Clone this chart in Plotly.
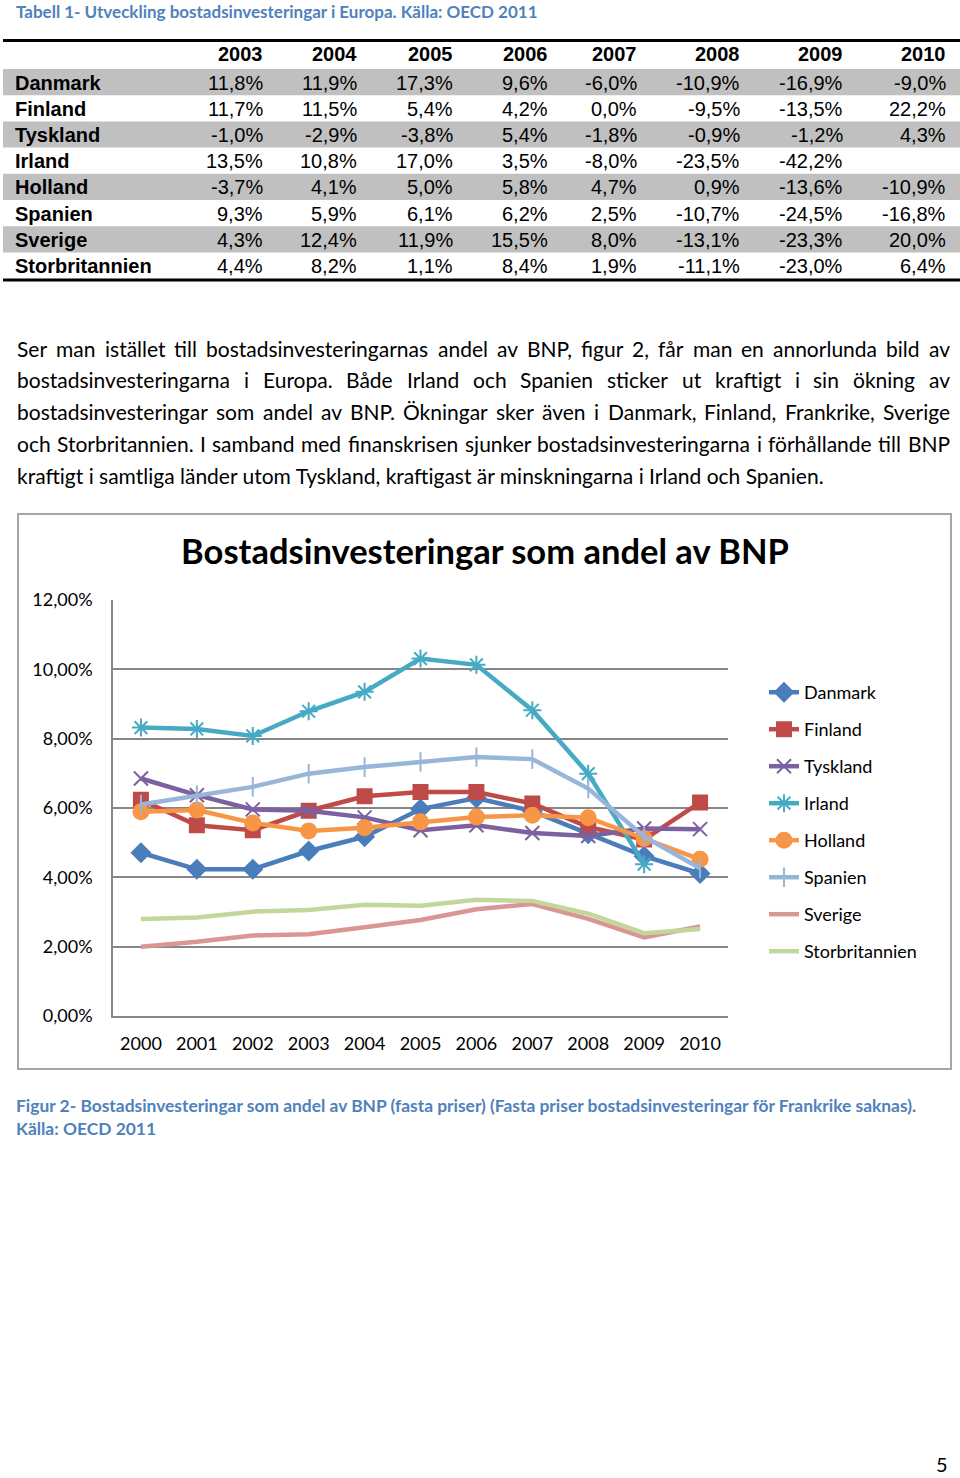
import glob
import plotly.graph_objects as go

W, H = 960, 1478
def X(px): return px / W
def Y(py): return 1 - py / H

# ---------------- Table data ----------------
table_years = ["2003", "2004", "2005", "2006", "2007", "2008", "2009", "2010"]
table_countries = ["Danmark", "Finland", "Tyskland", "Irland", "Holland", "Spanien", "Sverige", "Storbritannien"]
tbl_danmark = ["11,8%", "11,9%", "17,3%", "9,6%", "-6,0%", "-10,9%", "-16,9%", "-9,0%"]
tbl_finland = ["11,7%", "11,5%", "5,4%", "4,2%", "0,0%", "-9,5%", "-13,5%", "22,2%"]
tbl_tyskland = ["-1,0%", "-2,9%", "-3,8%", "5,4%", "-1,8%", "-0,9%", "-1,2%", "4,3%"]
tbl_irland = ["13,5%", "10,8%", "17,0%", "3,5%", "-8,0%", "-23,5%", "-42,2%", ""]
tbl_holland = ["-3,7%", "4,1%", "5,0%", "5,8%", "4,7%", "0,9%", "-13,6%", "-10,9%"]
tbl_spanien = ["9,3%", "5,9%", "6,1%", "6,2%", "2,5%", "-10,7%", "-24,5%", "-16,8%"]
tbl_sverige = ["4,3%", "12,4%", "11,9%", "15,5%", "8,0%", "-13,1%", "-23,3%", "20,0%"]
tbl_storbrit = ["4,4%", "8,2%", "1,1%", "8,4%", "1,9%", "-11,1%", "-23,0%", "6,4%"]
table_rows = [tbl_danmark, tbl_finland, tbl_tyskland, tbl_irland,
              tbl_holland, tbl_spanien, tbl_sverige, tbl_storbrit]

# ---------------- Chart data ----------------
years = ["2000", "2001", "2002", "2003", "2004", "2005", "2006", "2007", "2008", "2009", "2010"]
danmark = [4.71, 4.23, 4.23, 4.76, 5.17, 5.97, 6.29, 5.91, 5.26, 4.61, 4.11]
finland = [6.24, 5.50, 5.36, 5.92, 6.34, 6.46, 6.46, 6.13, 5.45, 5.09, 6.16]
tyskland = [6.85, 6.37, 5.96, 5.92, 5.73, 5.36, 5.50, 5.28, 5.19, 5.41, 5.39]
irland = [8.32, 8.28, 8.08, 8.79, 9.35, 10.31, 10.13, 8.82, 6.99, 4.38, None]
holland = [5.89, 5.94, 5.57, 5.34, 5.43, 5.60, 5.74, 5.79, 5.72, 5.12, 4.52]
spanien = [6.10, 6.37, 6.61, 6.99, 7.18, 7.33, 7.47, 7.41, 6.56, 5.17, 4.26]
sverige = [2.00, 2.14, 2.32, 2.36, 2.56, 2.77, 3.08, 3.23, 2.80, 2.27, 2.58]
storbritannien = [2.80, 2.84, 3.01, 3.06, 3.21, 3.18, 3.35, 3.32, 2.95, 2.39, 2.51]

y_tickvals = [0, 2, 4, 6, 8, 10, 12]
y_ticktext = ["0,00%", "2,00%", "4,00%", "6,00%", "8,00%", "10,00%", "12,00%"]

series = [
    ("Danmark", danmark, "#4A7EBB", "diamond", 14),
    ("Finland", finland, "#BE4B48", "square", 14),
    ("Tyskland", tyskland, "#7D60A0", "x-thin-open", 14),
    ("Irland", irland, "#46AAC5", "asterisk-open", 15),
    ("Holland", holland, "#F79646", "circle", 15),
    ("Spanien", spanien, "#98B5DA", "line-ns-open", 14),
    ("Sverige", sverige, "#D99694", None, 0),
    ("Storbritannien", storbritannien, "#C3D69B", None, 0),
]

paragraph = [
    "Ser man istället till bostadsinvesteringarnas andel av BNP, figur 2, får man en annorlunda bild av",
    "bostadsinvesteringarna i Europa. Både Irland och Spanien sticker ut kraftigt i sin ökning av",
    "bostadsinvesteringar som andel av BNP. Ökningar sker även i Danmark, Finland, Frankrike, Sverige",
    "och Storbritannien. I samband med finanskrisen sjunker bostadsinvesteringarna i förhållande till BNP",
    "kraftigt i samtliga länder utom Tyskland, kraftigast är minskningarna i Irland och Spanien.",
]

blue_caption = "#4F81BD"
body_font = "Lato"
table_font = "Liberation Sans"
PARA_SIZE = 21

# optional text measurement for justified paragraph lines
measure = None
try:
    from PIL import ImageFont
    paths = []
    for d in ["/usr/share/fonts", "/usr/local/share/fonts", "/usr/share/texmf/fonts"]:
        paths += glob.glob(d + "/**/Lato-Regular.ttf", recursive=True)
    if paths:
        _f = ImageFont.truetype(paths[0], PARA_SIZE)
        measure = lambda s: _f.getlength(s)
except Exception:
    measure = None

fig = go.Figure()

# ---------------- Chart traces ----------------
for name, vals, color, sym, msize in series:
    kw = {}
    if sym:
        kw["marker"] = dict(symbol=sym, size=msize, color=color,
                            line=dict(color=color, width=2))
    fig.add_trace(go.Scatter(
        x=years, y=vals, name=name, mode="lines+markers" if sym else "lines",
        line=dict(color=color, width=4.5),
        legendgroup=name, connectgaps=False, **kw))

shapes = []
annotations = []

# ---------------- Table (drawn with shapes + text) ----------------
row_top0, row_h = 69.0, 26.2
col_right = [265, 359, 455, 550, 639, 742, 845, 948]
for i in range(len(table_countries)):
    top = row_top0 + i * row_h
    if i % 2 == 0:
        shapes.append(dict(type="rect", xref="paper", yref="paper",
                           x0=X(3), x1=X(960), y0=Y(top + row_h), y1=Y(top),
                           fillcolor="#C0C0C0", line=dict(width=0), layer="below"))
shapes.append(dict(type="line", xref="paper", yref="paper", x0=X(3), x1=X(960),
                   y0=Y(40.5), y1=Y(40.5), line=dict(color="black", width=3)))
shapes.append(dict(type="line", xref="paper", yref="paper", x0=X(3), x1=X(960),
                   y0=Y(280), y1=Y(280), line=dict(color="black", width=3)))

for j, yr in enumerate(table_years):
    annotations.append(dict(text="<b>%s</b>" % yr, x=X(col_right[j]), y=Y(54),
                            xref="paper", yref="paper", xanchor="right", yanchor="middle",
                            showarrow=False, font=dict(family=table_font, size=20, color="black")))
for i, (country, row) in enumerate(zip(table_countries, table_rows)):
    cy = row_top0 + i * row_h + row_h / 2 + 0.5
    annotations.append(dict(text="<b>%s</b>" % country, x=X(13), y=Y(cy),
                            xref="paper", yref="paper", xanchor="left", yanchor="middle",
                            showarrow=False, font=dict(family=table_font, size=20, color="black")))
    for j, v in enumerate(row):
        if v:
            annotations.append(dict(text=v, x=X(col_right[j]), y=Y(cy),
                                    xref="paper", yref="paper", xanchor="right", yanchor="middle",
                                    showarrow=False,
                                    font=dict(family=table_font, size=20, color="black")))

# ---------------- Paragraph ----------------
para_y = [348, 380, 411, 443, 475]
left, right = 15, 948
for k, (line, py) in enumerate(zip(paragraph, para_y)):
    justify = k < len(paragraph) - 1 and measure is not None
    if justify:
        words = line.split(" ")
        widths = [measure(w) for w in words]
        gap = (right - left - sum(widths)) / (len(words) - 1)
        x = left
        for w, wd in zip(words, widths):
            annotations.append(dict(text=w, x=X(x), y=Y(py), xref="paper", yref="paper",
                                    xanchor="left", yanchor="middle", showarrow=False,
                                    font=dict(family=body_font, size=PARA_SIZE, color="black")))
            x += wd + gap
    else:
        annotations.append(dict(text=line, x=X(left), y=Y(py), xref="paper", yref="paper",
                                xanchor="left", yanchor="middle", showarrow=False,
                                font=dict(family=body_font, size=PARA_SIZE, color="black")))

# ---------------- Captions ----------------
annotations += [
    dict(text="<b>Tabell 1- Utveckling bostadsinvesteringar i Europa. Källa: OECD 2011</b>",
         x=X(14), y=Y(11), xref="paper", yref="paper", xanchor="left", yanchor="middle",
         showarrow=False, font=dict(family=body_font, size=17, color=blue_caption)),
    dict(text="<b>Figur 2- Bostadsinvesteringar som andel av BNP (fasta priser) (Fasta priser bostadsinvesteringar för Frankrike saknas).</b>",
         x=X(14), y=Y(1105), xref="paper", yref="paper", xanchor="left", yanchor="middle",
         showarrow=False, font=dict(family=body_font, size=17.4, color=blue_caption)),
    dict(text="<b>Källa: OECD 2011</b>",
         x=X(14), y=Y(1128), xref="paper", yref="paper", xanchor="left", yanchor="middle",
         showarrow=False, font=dict(family=body_font, size=17.4, color=blue_caption)),
    dict(text="5", x=X(942), y=Y(1464), xref="paper", yref="paper", xanchor="center", yanchor="middle",
         showarrow=False, font=dict(family=body_font, size=20, color="black")),
]

# chart frame
shapes.append(dict(type="rect", xref="paper", yref="paper", x0=X(18), x1=X(951),
                   y0=Y(1069), y1=Y(514), line=dict(color="#A6A6A6", width=2), layer="below"))

fig.update_layout(
    width=W, height=H,
    margin=dict(l=0, r=0, t=0, b=0, pad=0, autoexpand=False),
    paper_bgcolor="white", plot_bgcolor="white",
    showlegend=True,
    title=dict(text="<b>Bostadsinvesteringar som andel av BNP</b>",
               x=X(485), y=Y(552), xanchor="center", yanchor="middle",
               xref="paper", yref="paper", automargin=False,
               font=dict(family=body_font, size=34.5, color="black")),
    xaxis=dict(domain=[X(113), X(728)], type="category", range=[-0.5, 10.5],
               showgrid=False, showline=True, linecolor="#868686", linewidth=1.5,
               ticks="", ticklabelstandoff=11, anchor="y", automargin=False,
               tickfont=dict(family=body_font, size=18, color="black")),
    yaxis=dict(domain=[Y(1016), Y(600)], range=[0, 12],
               tickvals=y_tickvals, ticktext=y_ticktext,
               showgrid=True, gridcolor="#868686", gridwidth=1.5,
               showline=True, linecolor="#868686", linewidth=1.5,
               zeroline=False, ticks="", ticklabelstandoff=15, anchor="x", automargin=False,
               tickfont=dict(family=body_font, size=18, color="black")),
    legend=dict(x=X(764), y=Y(674), xanchor="left", yanchor="top",
                font=dict(family=body_font, size=18, color="black"),
                tracegroupgap=10.6, bgcolor="rgba(0,0,0,0)"),
    shapes=shapes,
    annotations=annotations,
)

fig.write_html("out.html", config={"displayModeBar": False},
               post_script="document.body.style.margin='0';document.body.style.overflow='hidden';")
